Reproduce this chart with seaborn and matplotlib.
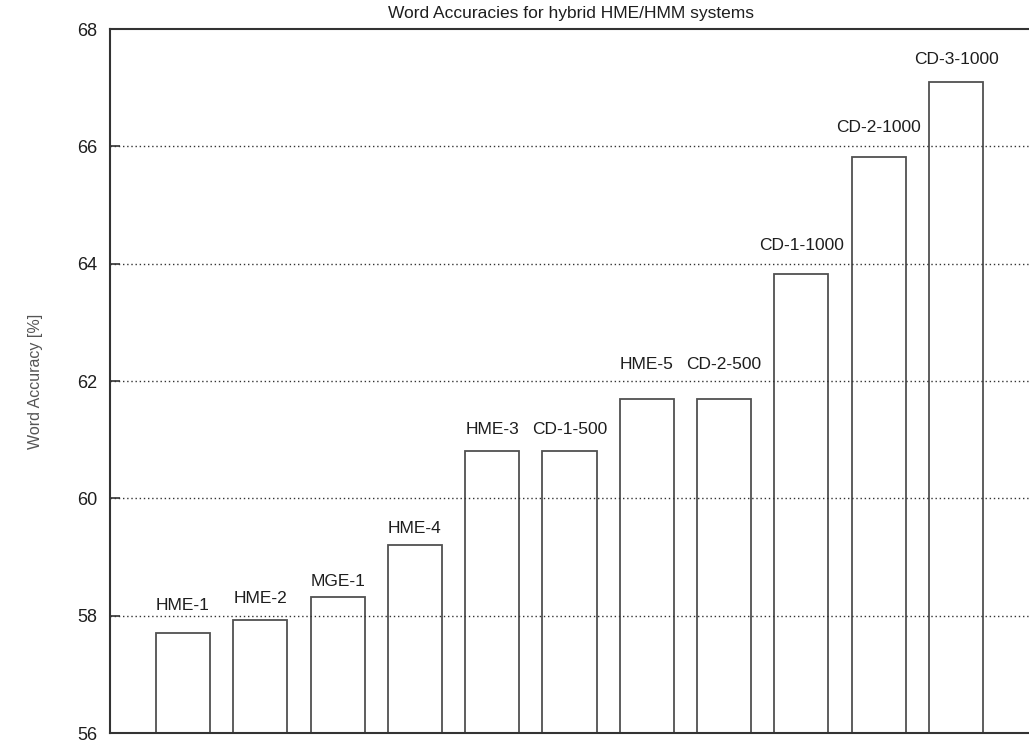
import matplotlib
matplotlib.use("Agg")
import matplotlib.pyplot as plt
import seaborn as sns
import pandas as pd

# Word accuracy per hybrid system
systems = ["HME-1", "HME-2", "MGE-1", "HME-4", "HME-3", "CD-1-500",
           "HME-5", "CD-2-500", "CD-1-1000", "CD-2-1000", "CD-3-1000"]
accuracy = [57.71, 57.92, 58.31, 59.2, 60.81, 60.81,
            61.70, 61.70, 63.82, 65.81, 67.10]
y_ticks = [56, 58, 60, 62, 64, 66, 68]

# gap (points) between each bar top and its label
label_gap = [14, 10, 6, 7, 10, 10, 19, 19, 15, 16, 11]

sns.set_theme(style="white")
plt.rcParams["font.family"] = ["Liberation Sans", "DejaVu Sans"]

df = pd.DataFrame({"system": systems, "accuracy": accuracy})

fig = plt.figure(figsize=(10.29, 7.46), dpi=100)
ax = fig.add_axes([110 / 1029, 13 / 746, 921 / 1029, 704 / 746])

sns.barplot(data=df, x="system", y="accuracy", color="white",
            edgecolor="#505050", linewidth=1.3, width=0.70,
            saturation=1, ax=ax, zorder=2)

ax.set_ylim(56, 68)
ax.set_xlim(-0.944, 10.97)
ax.set_yticks(y_ticks)
ax.set_yticklabels([str(t) for t in y_ticks], fontsize=13, color="#1e1e1e")
ax.set_xticks([])
ax.set_xlabel("")
ax.set_ylabel("Word Accuracy [%]", fontsize=11.5, color="#555555")
ax.yaxis.set_label_coords(-0.073, 0.5)
ax.tick_params(axis="y", direction="in", length=7, width=1.2,
               color="#333333", pad=9, left=True)

# dotted horizontal grid at the inner ticks, drawn across the bars
for t in y_ticks[1:-1]:
    ax.axhline(t, color="#333333", linestyle=(0, (1, 2)), linewidth=1.0,
               zorder=3)

for side in ["left", "bottom", "top", "right"]:
    ax.spines[side].set_color("#333333")
    ax.spines[side].set_linewidth(1.5)
    ax.spines[side].set_visible(True)

for container in ax.containers:
    for patch, name, gap in zip(container.patches, systems, label_gap):
        ax.annotate(name,
                    (patch.get_x() + patch.get_width() / 2, patch.get_height()),
                    xytext=(0, gap), textcoords="offset points",
                    ha="center", va="bottom", fontsize=12.5, color="#1e1e1e",
                    zorder=4)

ax.set_title("Word Accuracies for hybrid HME/HMM systems", fontsize=12.5,
             color="#1e1e1e", pad=8)

fig.savefig("out.png", dpi=100, facecolor="white")
